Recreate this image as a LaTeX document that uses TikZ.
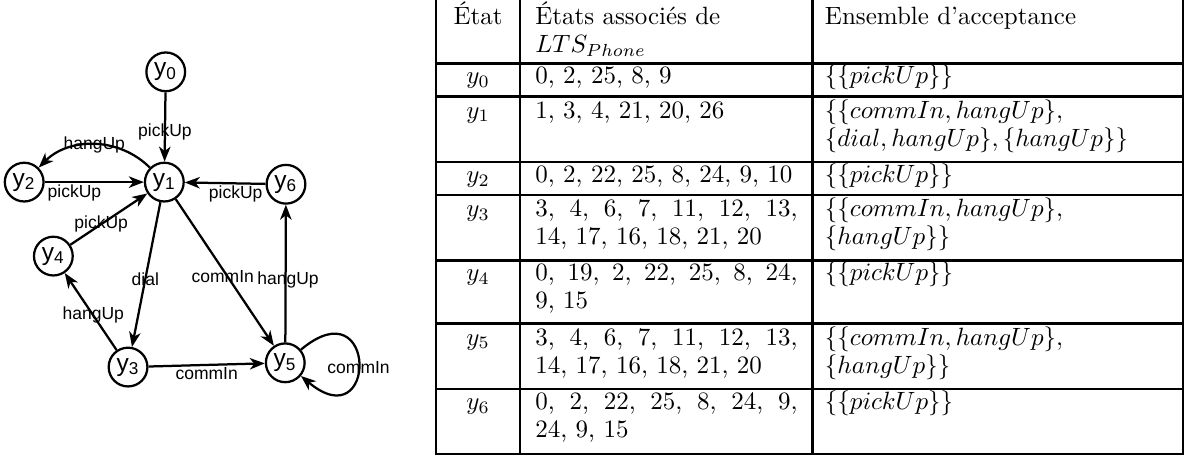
\documentclass[tikz,border=0pt]{standalone}
\usepackage{fontspec}
\newfontfamily\graphfont{Liberation Sans}
\usetikzlibrary{arrows.meta}
\tikzset{
  st/.style={circle, draw, line width=0.9pt, minimum size=15.5pt, inner sep=0pt, font=\graphfont\fontsize{9.8}{10}\selectfont},
  tr/.style={-{Stealth[length=6pt, width=4.6pt, inset=1.8pt]}, line width=0.9pt},
  lbl/.style={font=\graphfont\fontsize{7}{7.5}\selectfont, inner sep=0.5pt},
  rule/.style={line width=1pt, line cap=rect},
  cell/.style={inner sep=0pt, font=\fontsize{10}{11.2}\selectfont},
}

\begin{document}
\begin{tikzpicture}
  \useasboundingbox (0,0) rectangle (16.70,-6.41);
  \newcommand{\staterow}[5]{%
    \node[cell, anchor=base] (#1s) at (6.72,#2) {#3};
    \node[cell, anchor=base west, text width=104.8pt, align=justify] (#1e) at (7.52,#2) {#4};
    \node[cell, anchor=base west, text width=136pt, align=left] (#1a) at (11.59,#2) {#5};
  }

  % states
  \node[st] (y0) at (2.33,-1.01) {y\textsubscript{0}};
  \node[st] (y1) at (2.31,-2.56) {y\textsubscript{1}};
  \node[st] (y2) at (0.34,-2.56) {y\textsubscript{2}};
  \node[st] (y6) at (4.02,-2.59) {y\textsubscript{6}};
  \node[st] (y4) at (0.75,-3.60) {y\textsubscript{4}};
  \node[st] (y3) at (1.80,-5.16) {y\textsubscript{3}};
  \node[st] (y5) at (4.01,-5.10) {y\textsubscript{5}};

  % transitions
  \draw[tr] (y0) -- node[lbl, pos=0.57] (l01) {pickUp} (y1);
  \draw[tr] (y1) to[bend right=45] node[lbl] (l12) {hangUp} (y2);
  \draw[tr] (y2) -- node[lbl, below, pos=0.3] (l21) {pickUp} (y1);
  \draw[tr] (y6) -- node[lbl, below, pos=0.37] (l61) {pickUp} (y1);
  \draw[tr] (y4) -- node[lbl, pos=0.4] (l41) {pickUp} (y1);
  \draw[tr] (y1) -- node[lbl, pos=0.53] (l13) {dial} (y3);
  \draw[tr] (y1) -- node[lbl, pos=0.53, xshift=-2pt] (l15) {commIn} (y5);
  \draw[tr] (y5) -- node[lbl, pos=0.45, xshift=1pt] (l56) {hangUp} (y6);
  \draw[tr] (y3) -- node[lbl, pos=0.45] (l34) {hangUp} (y4);
  \draw[tr] (y3) -- node[lbl, below] (l35) {commIn} (y5);
  \draw[tr] (y5.40) .. controls +(40:1.41) and +(-40:1.41) .. node[lbl, yshift=-2pt] (l55) {commIn} (y5.-40);

  % table
  \foreach \x in {6.13, 7.31, 11.42, 16.63} \draw[rule] (\x,0.1) -- (\x,-6.38);
  \foreach \y in {-0.89, -1.36, -2.28, -2.74, -3.66, -4.55, -5.47, -6.38} \draw[rule] (6.13,\y) -- (16.63,\y);

  \staterow{h}{-0.35}{État}{États associés de\\$LTS_{Phone}$}{Ensemble d'acceptance}
  \staterow{r0}{-1.18}{$y_0$}{0, 2, 25, 8, 9}{$\{\{pickUp\}\}$}
  \staterow{r1}{-1.66}{$y_1$}{1, 3, 4, 21, 20, 26}{$\{\{commIn, hangUp\},$\\$\{dial, hangUp\}, \{hangUp\}\}$}
  \staterow{r2}{-2.57}{$y_2$}{0, 2, 22, 25, 8, 24, 9, 10}{$\{\{pickUp\}\}$}
  \staterow{r3}{-3.04}{$y_3$}{3, 4, 6, 7, 11, 12, 13,\linebreak 14, 17, 16, 18, 21, 20}{$\{\{commIn, hangUp\},$\\$\{hangUp\}\}$}
  \staterow{r4}{-3.95}{$y_4$}{0, 19, 2, 22, 25, 8, 24,\linebreak 9, 15}{$\{\{pickUp\}\}$}
  \staterow{r5}{-4.85}{$y_5$}{3, 4, 6, 7, 11, 12, 13,\linebreak 14, 17, 16, 18, 21, 20}{$\{\{commIn, hangUp\},$\\$\{hangUp\}\}$}
  \staterow{r6}{-5.76}{$y_6$}{0, 2, 22, 25, 8, 24, 9,\linebreak 24, 9, 15}{$\{\{pickUp\}\}$}
\end{tikzpicture}
\end{document}
